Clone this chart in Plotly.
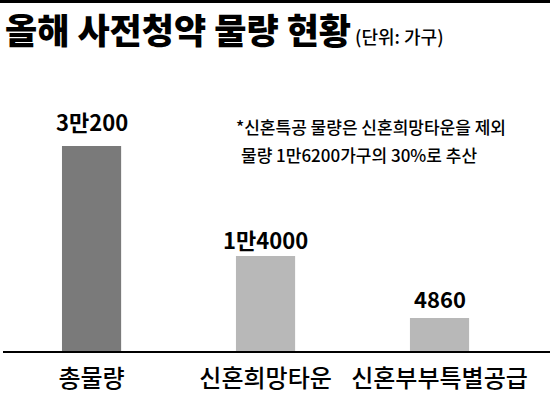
import plotly.graph_objects as go

categories = ["총물량", "신혼희망타운", "신혼부부특별공급"]
values = [30200, 14000, 4860]
value_labels = ["3만200", "1만4000", "4860"]
bar_colors = ["#7a7a7a", "#b8b8b8", "#b8b8b8"]
label_shift = [25, 17, 20]

title_main = "올해 사전청약 물량 현황"
title_unit = "(단위: 가구)"
note_line1 = "*신혼특공 물량은 신혼희망타운을 제외"
note_line2 = "물량 1만6200가구의 30%로 추산"

FONT = "Noto Sans CJK KR"
PAPER_H = 353.0  # paper area height in px (top margin 0)

fig = go.Figure()
fig.add_trace(go.Bar(
    x=categories, y=values,
    marker=dict(color=bar_colors, line=dict(width=0)),
    width=0.34,
    hoverinfo="skip",
))
# invisible helper trace on a top axis whose axis line forms the top rule
fig.add_trace(go.Scatter(
    x=categories, y=[None, None, None], xaxis="x2", yaxis="y",
    mode="markers", showlegend=False, hoverinfo="skip",
))

for c, v, t, s in zip(categories, values, value_labels, label_shift):
    fig.add_annotation(
        x=c, y=v, text=t, showarrow=False,
        yanchor="middle", yshift=s,
        font=dict(family=FONT, size=22, color="#000000", weight=700),
    )

fig.add_annotation(
    xref="paper", yref="paper", x=0.422, y=(PAPER_H - 127) / PAPER_H,
    xanchor="left", yanchor="middle",
    text=note_line1, showarrow=False,
    font=dict(family=FONT, size=17, color="#000000", weight=500),
)
fig.add_annotation(
    xref="paper", yref="paper", x=0.431, y=(PAPER_H - 155) / PAPER_H,
    xanchor="left", yanchor="middle",
    text=note_line2, showarrow=False,
    font=dict(family=FONT, size=17, color="#000000", weight=500),
)

# top rule
fig.add_shape(type="rect", xref="paper", yref="paper", layer="above",
              x0=-0.01, x1=1.01, y0=(PAPER_H - 3) / PAPER_H, y1=1.0,
              fillcolor="#000000", line=dict(width=0))

fig.update_layout(
    width=550, height=394,
    margin=dict(l=3, r=0, t=0, b=41),
    paper_bgcolor="#ffffff", plot_bgcolor="#ffffff",
    showlegend=False,
    title=dict(
        text=f"{title_main}<span style='font-size:18px;font-weight:500'> {title_unit}</span>",
        x=5/550, xanchor="left", xref="container",
        y=1 - 32/394, yanchor="middle", yref="container",
        font=dict(family=FONT, size=35, color="#000000", weight=900),
    ),
    xaxis=dict(
        type="category", range=[-0.509, 2.635],
        showline=True, linecolor="#000000", linewidth=2,
        ticks="", showgrid=False, zeroline=False,
        tickfont=dict(family=FONT, size=24, color="#000000", weight=500),
        ticklabelstandoff=5,
        fixedrange=True,
    ),
    xaxis2=dict(
        type="category", range=[-0.509, 2.635], overlaying="x",
        anchor="free", position=(PAPER_H - 1.5) / PAPER_H, side="top",
        showline=True, linecolor="#000000", linewidth=3,
        showticklabels=False, ticks="", showgrid=False, zeroline=False,
        fixedrange=True,
    ),
    yaxis=dict(
        domain=[0, 273.2 / PAPER_H],
        range=[0, 40000], visible=False, showgrid=False, zeroline=False,
        fixedrange=True,
    ),
)

fig.write_html("out.html")
